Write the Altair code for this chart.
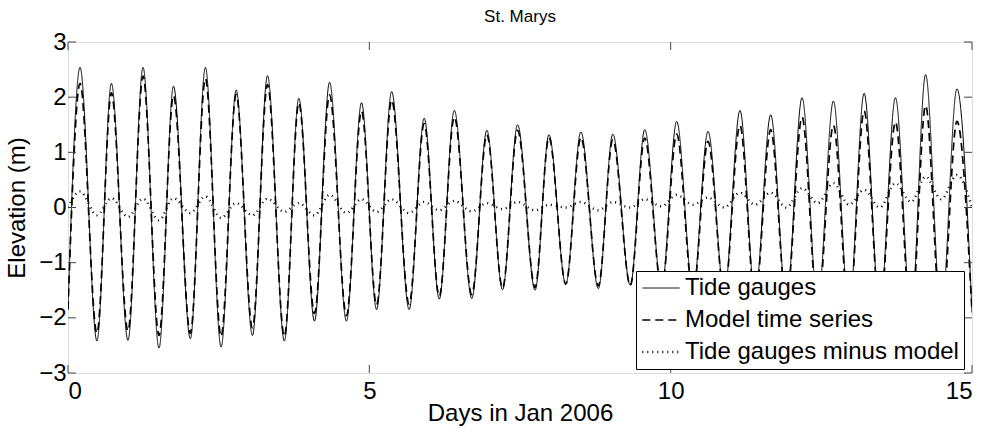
import altair as alt
import pandas as pd

# extreme times (days in Jan 2006): start, alternating highs/lows, end
times = [0.0, 0.20, 0.48, 0.72, 0.995, 1.245, 1.51, 1.75, 2.03, 2.28, 2.54, 2.79,
         3.06, 3.31, 3.59, 3.83, 4.09, 4.34, 4.62, 4.87, 5.12, 5.37, 5.66, 5.91,
         6.16, 6.41, 6.70, 6.95, 7.21, 7.46, 7.75, 7.98, 8.26, 8.51, 8.80, 9.04,
         9.33, 9.57, 9.85, 10.10, 10.37, 10.62, 10.89, 11.15, 11.40, 11.66, 11.92,
         12.18, 12.44, 12.70, 12.96, 13.21, 13.47, 13.73, 13.99, 14.23, 14.49,
         14.75, 15.0]

gauge = [-1.85, 2.54, -2.42, 2.25, -2.41, 2.54, -2.55, 2.20, -2.38, 2.54, -2.53, 2.13,
         -2.32, 2.39, -2.42, 1.98, -2.06, 2.27, -2.06, 1.90, -1.85, 2.10, -1.85, 1.62,
         -1.66, 1.76, -1.65, 1.40, -1.49, 1.50, -1.50, 1.32, -1.39, 1.37, -1.47, 1.33,
         -1.41, 1.41, -1.45, 1.56, -1.50, 1.38, -1.55, 1.76, -1.60, 1.68, -1.70,
         1.99, -1.75, 1.93, -1.85, 2.07, -1.85, 1.99, -1.95, 2.41, -1.95,
         2.15, -1.90]

model = [-1.85, 2.25, -2.28, 2.08, -2.24, 2.38, -2.32, 2.03, -2.28, 2.34, -2.34, 2.05,
         -2.18, 2.23, -2.34, 1.90, -1.92, 2.04, -1.96, 1.75, -1.77, 1.95, -1.75, 1.52,
         -1.61, 1.64, -1.58, 1.32, -1.46, 1.40, -1.45, 1.27, -1.39, 1.27, -1.42, 1.23,
         -1.41, 1.26, -1.47, 1.33, -1.55, 1.20, -1.55, 1.49, -1.65, 1.41, -1.70,
         1.64, -1.83, 1.49, -1.90, 1.75, -1.85, 1.55, -2.05, 1.85, -2.10,
         1.56, -1.90]

resid = [0.0, 0.29, -0.14, 0.17, -0.17, 0.16, -0.23, 0.17, -0.10, 0.20, -0.19, 0.08,
         -0.14, 0.16, -0.08, 0.08, -0.14, 0.23, -0.10, 0.15, -0.08, 0.15, -0.10, 0.10,
         -0.05, 0.12, -0.07, 0.08, -0.03, 0.10, -0.05, 0.05, 0.00, 0.10, -0.05, 0.10,
         0.00, 0.15, 0.02, 0.23, 0.05, 0.18, 0.00, 0.27, 0.05, 0.27, 0.00,
         0.35, 0.08, 0.44, 0.05, 0.32, 0.00, 0.44, 0.10, 0.56, 0.15,
         0.59, 0.0]

series_names = ["Tide gauges", "Model time series", "Tide gauges minus model"]
x_ticks = [0, 5, 10, 15]
y_ticks = [-3, -2, -1, 0, 1, 2, 3]

rows = []
for name, vals in zip(series_names, [gauge, model, resid]):
    for t, v in zip(times, vals):
        rows.append({"day": t, "elev": v, "series": name})
df = pd.DataFrame(rows)

FONT = "Liberation Sans"
FS = 24
W, H = 904, 331
xs = alt.Scale(domain=[0, 15], nice=False, zero=False)
ys = alt.Scale(domain=[-3, 3], nice=False, zero=False)

lines = alt.Chart(df).mark_line(interpolate="monotone", clip=True, color="black").encode(
    x=alt.X("day:Q", scale=xs, title="Days in Jan 2006",
            axis=alt.Axis(values=x_ticks, format="d", tickSize=0, domain=False, grid=False,
                          labelFontSize=FS, labelFont=FONT, labelPadding=6,
                          titleFontSize=FS, titleFont=FONT, titleFontWeight="normal",
                          titlePadding=-2, labelColor="black", titleColor="black")),
    y=alt.Y("elev:Q", scale=ys, title="Elevation (m)",
            axis=alt.Axis(values=y_ticks, format="d", tickSize=0, domain=False, grid=False,
                          labelFontSize=FS, labelFont=FONT, labelPadding=2,
                          titleFontSize=FS, titleFont=FONT, titleFontWeight="normal",
                          titlePadding=9, labelColor="black", titleColor="black")),
    strokeDash=alt.StrokeDash("series:N",
        scale=alt.Scale(domain=series_names, range=[[1, 0], [8, 5], [1, 4]]),
        legend=alt.Legend(orient="none", legendX=568, legendY=229, title=None,
                          symbolType="stroke", symbolSize=1400, symbolStrokeWidth=1.0,
                          symbolStrokeColor="black", labelFontSize=FS, labelFont=FONT,
                          labelColor="black", strokeColor="black", fillColor="white",
                          padding=5, rowPadding=8, clipHeight=24, labelOffset=4,
                          zindex=1, labelLimit=400)),
    strokeWidth=alt.StrokeWidth("series:N",
        scale=alt.Scale(domain=series_names, range=[1.0, 2.4, 0.8]), legend=None),
    detail="series:N",
)

xt = pd.DataFrame({"t": x_ticks})
yt = pd.DataFrame({"t": y_ticks})
tick_style = dict(color="#444", strokeWidth=1)
xtick_bot = alt.Chart(xt).mark_rule(**tick_style).encode(
    x=alt.X("t:Q", scale=xs), y=alt.value(H), y2=alt.value(H - 8))
xtick_top = alt.Chart(xt).mark_rule(**tick_style).encode(
    x=alt.X("t:Q", scale=xs), y=alt.value(0), y2=alt.value(8))
ytick_l = alt.Chart(yt).mark_rule(**tick_style).encode(
    y=alt.Y("t:Q", scale=ys), x=alt.value(0), x2=alt.value(8))
ytick_r = alt.Chart(yt).mark_rule(**tick_style).encode(
    y=alt.Y("t:Q", scale=ys), x=alt.value(W), x2=alt.value(W - 8))

chart = alt.layer(lines, xtick_bot, xtick_top, ytick_l, ytick_r).properties(
    width=W, height=H,
    title=alt.Title("St. Marys", fontSize=17, font=FONT, fontWeight="normal",
                    color="black", anchor="middle", offset=4, frame="group"),
    autosize=alt.AutoSizeParams(type="none"),
    padding={"left": 68, "top": 42, "right": 18, "bottom": 59},
).configure_view(stroke="#555", strokeWidth=1).configure(background="white")

chart.save("out.html", embed_options={"renderer": "svg", "actions": False})
